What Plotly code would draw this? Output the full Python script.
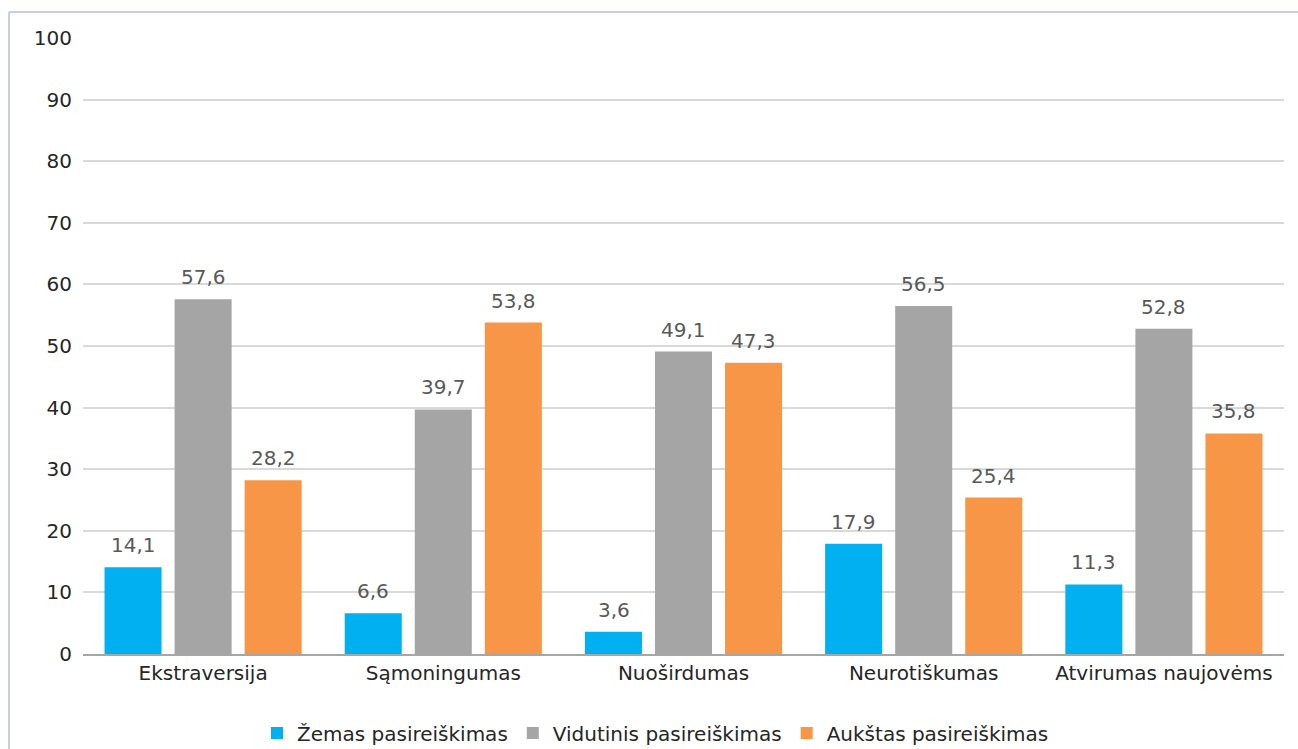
import plotly.graph_objects as go

categories = ["Ekstraversija", "Sąmoningumas", "Nuoširdumas", "Neurotiškumas", "Atvirumas naujovėms"]
series_names = ["Žemas pasireiškimas", "Vidutinis pasireiškimas", "Aukštas pasireiškimas"]
low_values = [14.1, 6.6, 3.6, 17.9, 11.3]
mid_values = [57.6, 39.7, 49.1, 56.5, 52.8]
high_values = [28.2, 53.8, 47.3, 25.4, 35.8]
series_colors = ["#00b0f0", "#a5a5a5", "#f79646"]
y_ticks = list(range(0, 101, 10))

W, H = 1298, 749
ML, MR, MT, MB = 83, 14, 38, 95
font_family = "DejaVu Sans, Verdana, sans-serif"
BAR_SLOT_PX = 70  # horizontal distance between neighbouring bars in a group

fig = go.Figure()
all_series = [low_values, mid_values, high_values]
for name, vals, color in zip(series_names, all_series, series_colors):
    fig.add_trace(go.Bar(
        x=categories, y=vals, name=name,
        marker=dict(color=color, line=dict(width=0)),
        cliponaxis=False,
    ))

# value labels placed a little above each bar
for si, vals in enumerate(all_series):
    for cat, v in zip(categories, vals):
        fig.add_annotation(
            x=cat, y=v, text=f"{v:.1f}".replace(".", ","),
            showarrow=False, yanchor="bottom", xanchor="center",
            xshift=(si - 1) * BAR_SLOT_PX, yshift=8,
            font=dict(size=20, color="#595959", family=font_family),
        )

plot_w = W - ML - MR
plot_h = H - MT - MB
# outer frame of the chart area (left and top edges visible)
fig.add_shape(type="line", xref="paper", yref="paper",
              x0=(9 - ML) / plot_w, x1=(W + 5 - ML) / plot_w,
              y0=1 + (MT - 12) / plot_h, y1=1 + (MT - 12) / plot_h,
              line=dict(color="#c5d0e6", width=2))
fig.add_shape(type="line", xref="paper", yref="paper",
              x0=(9 - ML) / plot_w, x1=(9 - ML) / plot_w,
              y0=1 + (MT - 12) / plot_h, y1=-(MB + 5) / plot_h,
              line=dict(color="#c5d0e6", width=2))

fig.update_layout(
    width=W, height=H,
    margin=dict(l=ML, r=MR, t=MT, b=MB, pad=0, autoexpand=False),
    paper_bgcolor="white", plot_bgcolor="white",
    barmode="group", bargap=0.125, bargroupgap=0.186,
    separators=", ",
    font=dict(family=font_family, size=20, color="#262626"),
    showlegend=True,
    legend=dict(orientation="h", xref="container", yref="container",
                x=0.505, xanchor="center", y=(H - 733) / H, yanchor="middle",
                font=dict(size=20, color="#262626"),
                itemwidth=30, traceorder="normal"),
    xaxis=dict(showgrid=False, showline=True, linecolor="#a6a6a6", linewidth=2,
               ticks="", tickfont=dict(size=20, color="#262626"), automargin=False),
    yaxis=dict(range=[0, 100], tickvals=y_ticks, showgrid=True, gridcolor="#d9d9d9",
               gridwidth=2, zeroline=False, showline=False, ticks="", automargin=False,
               tickfont=dict(size=20, color="#262626"), ticklabelstandoff=10),
)

fig.write_html("out.html")
